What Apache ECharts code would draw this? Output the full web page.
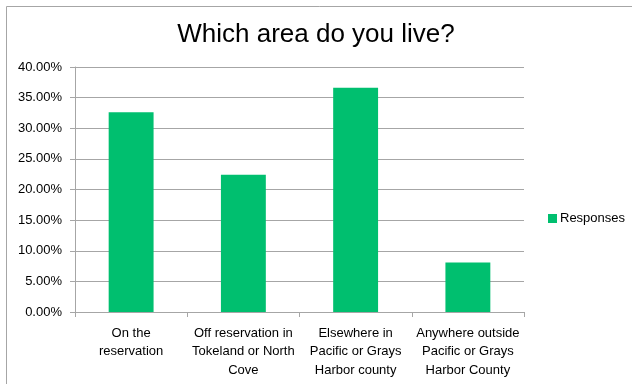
<!DOCTYPE html>
<html>
<head>
<meta charset="utf-8">
<script src="https://cdn.jsdelivr.net/npm/echarts@6/dist/echarts.min.js"></script>
<style>
  html, body { margin: 0; padding: 0; background: #fff; }
  #chart { width: 632px; height: 384px; }
</style>
</head>
<body>
<div id="chart"></div>
<script>
// Survey: where respondents live
const categories = [
  'On the\nreservation',
  'Off reservation in\nTokeland or North\nCove',
  'Elsewhere in\nPacific or Grays\nHarbor county',
  'Anywhere outside\nPacific or Grays\nHarbor County'
];
const responses = [32.6, 22.4, 36.6, 8.1];
const seriesName = 'Responses';
const chartTitle = 'Which area do you live?';

const chart = echarts.init(document.getElementById('chart'), null, { renderer: 'canvas' });

chart.setOption({
  animation: false,
  backgroundColor: '#ffffff',
  title: {
    text: chartTitle,
    left: 'center',
    top: 17,
    textStyle: { fontFamily: 'Liberation Sans', fontSize: 26, fontWeight: 'normal', color: '#000' }
  },
  graphic: [{
    type: 'rect',
    shape: { x: 6.5, y: 6.5, width: 700, height: 500 },
    style: { fill: 'none', stroke: '#a6a6a6', lineWidth: 1 },
    silent: true,
    z: -1
  }],
  legend: {
    data: [seriesName],
    orient: 'vertical',
    left: 543,
    top: 207,
    icon: 'rect',
    itemWidth: 9,
    itemHeight: 9,
    itemGap: 5,
    textStyle: { fontFamily: 'Liberation Sans', fontSize: 13, color: '#000', padding: [0, 0, 0, -2] }
  },
  grid: { left: 75, right: 108, top: 67, bottom: 72, containLabel: false },
  xAxis: {
    type: 'category',
    data: categories,
    boundaryGap: true,
    axisLine: { show: true, lineStyle: { color: '#a6a6a6', width: 1 } },
    axisTick: { show: true, length: 5, alignWithLabel: false, lineStyle: { color: '#a6a6a6' } },
    axisLabel: {
      interval: 0,
      margin: 12,
      fontFamily: 'Liberation Sans',
      fontSize: 13,
      lineHeight: 18.5,
      color: '#000'
    }
  },
  yAxis: {
    type: 'value',
    min: 0,
    max: 40,
    interval: 5,
    axisLine: { show: true, lineStyle: { color: '#a6a6a6', width: 1 } },
    axisTick: { show: true, length: 5, lineStyle: { color: '#a6a6a6' } },
    splitLine: { show: true, lineStyle: { color: '#a6a6a6', width: 1 } },
    axisLabel: {
      margin: 13,
      fontFamily: 'Liberation Sans',
      fontSize: 13,
      color: '#000',
      formatter: v => v.toFixed(2) + '%'
    }
  },
  series: [{
    name: seriesName,
    type: 'bar',
    data: responses,
    barCategoryGap: '60%',
    itemStyle: { color: '#00bf6f' }
  }]
});
</script>
</body>
</html>
